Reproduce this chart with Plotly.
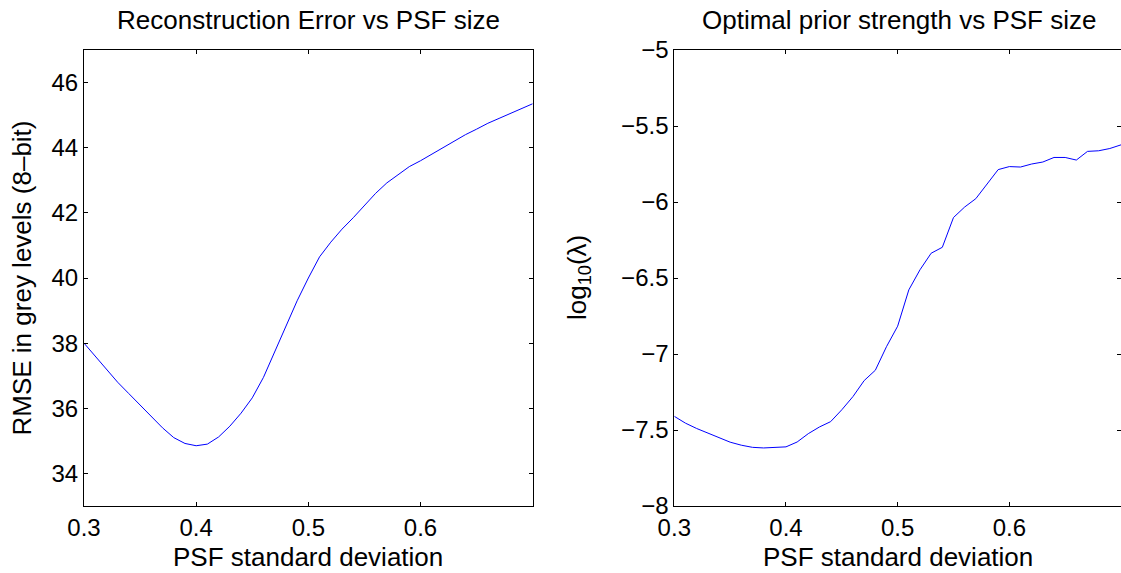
import plotly.graph_objects as go

# PSF standard deviation grid (shared by both panels)
psf_sigma = [0.30, 0.31, 0.32, 0.33, 0.34, 0.35, 0.36, 0.37, 0.38, 0.39,
             0.40, 0.41, 0.42, 0.43, 0.44, 0.45, 0.46, 0.47, 0.48, 0.49,
             0.50, 0.51, 0.52, 0.53, 0.54, 0.55, 0.56, 0.57, 0.58, 0.59,
             0.60, 0.61, 0.62, 0.63, 0.64, 0.65, 0.66, 0.67, 0.68, 0.69,
             0.70]

# Reconstruction RMSE (8-bit grey levels)
rmse = [38.00, 37.60, 37.20, 36.80, 36.45, 36.10, 35.75, 35.40, 35.10, 34.92,
        34.85, 34.90, 35.12, 35.45, 35.85, 36.32, 36.95, 37.72, 38.50, 39.30,
        40.00, 40.65, 41.10, 41.50, 41.85, 42.23, 42.60, 42.92, 43.18, 43.42,
        43.60, 43.80, 44.00, 44.20, 44.40, 44.57, 44.75, 44.90, 45.05, 45.20,
        45.35]

# Optimal prior strength, log10(lambda)
log_lambda = [-7.41, -7.455, -7.49, -7.52, -7.55, -7.58, -7.60, -7.614, -7.618, -7.615,
              -7.611, -7.579, -7.524, -7.48, -7.445, -7.367, -7.28, -7.175, -7.107, -6.952,
              -6.817, -6.578, -6.446, -6.337, -6.298, -6.102, -6.033, -5.978, -5.88, -5.787,
              -5.767, -5.77, -5.75, -5.737, -5.707, -5.707, -5.724, -5.667, -5.663, -5.648,
              -5.624]

x_ticks = [0.3, 0.4, 0.5, 0.6]
rmse_ticks = [34, 36, 38, 40, 42, 44, 46]
lambda_ticks = [-8, -7.5, -7, -6.5, -6, -5.5, -5]

W, H = 1121, 573
FONT = "Liberation Sans, Arial, Helvetica, sans-serif"
TICK_SIZE = 24
LABEL_SIZE = 26

y_dom = [1 - 506 / H, 1 - 50 / H]
left_dom = [84 / W, 532.7 / W]
right_dom = [674.3 / W, 1.0]

fig = go.Figure()
fig.add_trace(go.Scatter(x=psf_sigma, y=rmse, mode="lines",
                         line=dict(color="#0000ff", width=1),
                         xaxis="x", yaxis="y", showlegend=False))
fig.add_trace(go.Scatter(x=psf_sigma, y=log_lambda, mode="lines",
                         line=dict(color="#0000ff", width=1),
                         xaxis="x2", yaxis="y2", showlegend=False))

axis_style = dict(showline=True, linecolor="black", linewidth=1, mirror="ticks",
                  ticks="inside", ticklen=4, tickwidth=1, tickcolor="black",
                  showgrid=False, zeroline=False, automargin=False,
                  tickfont=dict(family=FONT, size=TICK_SIZE, color="black"))

fig.update_layout(
    width=W, height=H,
    margin=dict(l=0, r=0, t=0, b=0, pad=0, autoexpand=False),
    paper_bgcolor="white", plot_bgcolor="white",
    xaxis=dict(domain=left_dom, range=[0.3, 0.7], tickvals=x_ticks,
               ticktext=[f"{v:.1f}" for v in x_ticks], anchor="y", **axis_style),
    yaxis=dict(domain=y_dom, range=[33, 47], tickvals=rmse_ticks, anchor="x", **axis_style),
    xaxis2=dict(domain=right_dom, range=[0.3, 0.7], tickvals=x_ticks,
                ticktext=[f"{v:.1f}" for v in x_ticks], anchor="y2", **axis_style),
    yaxis2=dict(domain=y_dom, range=[-8, -5], tickvals=lambda_ticks,
                ticktext=["\u22128", "\u22127.5", "\u22127", "\u22126.5", "\u22126", "\u22125.5", "\u22125"],
                anchor="x2", **axis_style),
)

label_font = dict(family=FONT, size=LABEL_SIZE, color="black")
ann = [
    dict(text="Reconstruction Error vs PSF size", x=308.4 / W, y=1 - 20.5 / H),
    dict(text="Optimal prior strength vs PSF size", x=899 / W, y=1 - 20.5 / H),
    dict(text="PSF standard deviation", x=308.4 / W, y=0.0, yanchor="bottom", borderpad=0),
    dict(text="PSF standard deviation", x=898 / W, y=0.0, yanchor="bottom", borderpad=0),
    dict(text="RMSE in grey levels (8\u2013bit)", x=21.5 / W, y=1 - 278 / H, textangle=-90),
    dict(text="log<sub>10</sub>(\u03bb)", x=578 / W, y=1 - 278 / H, textangle=-90),
]
for a in ann:
    a.setdefault("yanchor", "middle")
    fig.add_annotation(xref="paper", yref="paper", xanchor="center",
                       showarrow=False, font=label_font, **a)

fig.write_html("out.html")
